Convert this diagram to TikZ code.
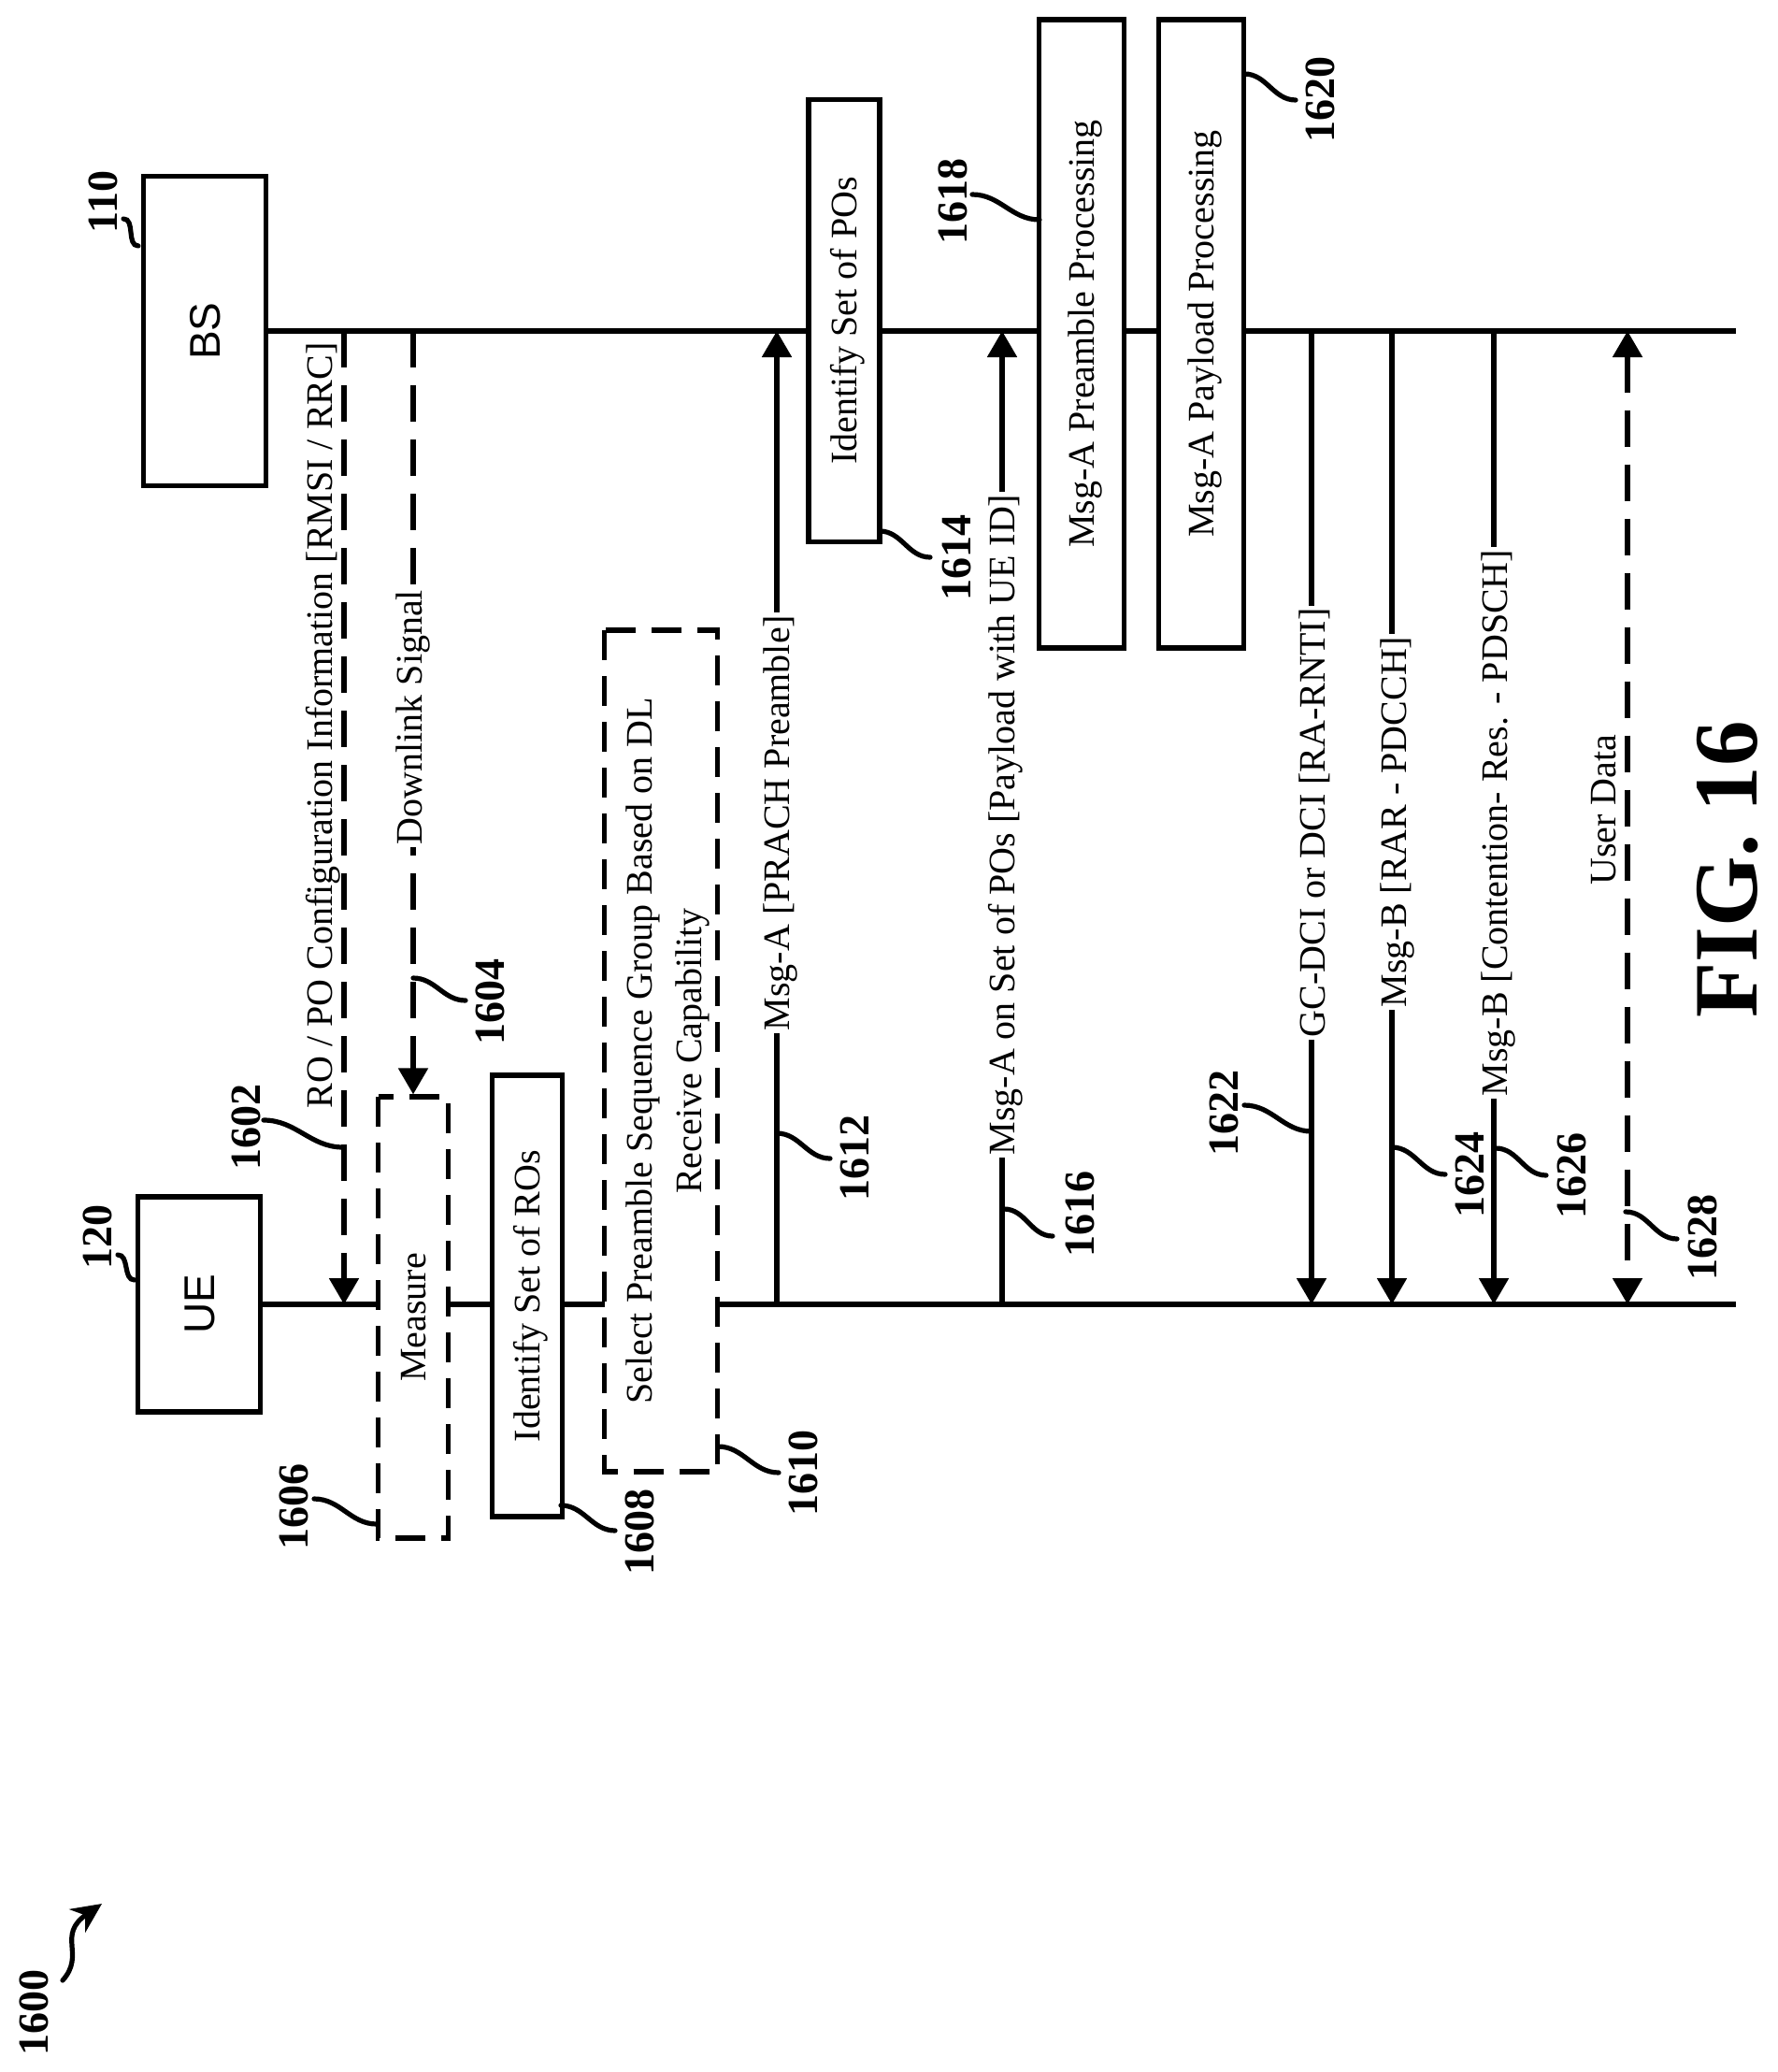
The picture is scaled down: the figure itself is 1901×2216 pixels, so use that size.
\documentclass[tikz,border=0pt]{standalone}
\usepackage{fontspec}
\setmainfont{Liberation Serif}
\setsansfont{Liberation Sans}
\usetikzlibrary{arrows.meta}
\tikzset{
    msgbox/.style = {draw, fill=white, rotate=90, line width=5.2pt, inner sep=0pt, align=center},
    onebox/.style = {msgbox, text height=35pt, text depth=8pt},
    dashbox/.style = {msgbox, dash pattern=on 32pt off 17pt},
    partybox/.style = {onebox, text height=33pt, text depth=0pt, font=\sffamily\fontsize{46}{46}\selectfont},
    msgtext/.style = {rotate=90, fill=white, inner xsep=3pt, inner ysep=2pt},
    sidetext/.style = {rotate=90, inner sep=0pt},
    refnum/.style = {rotate=90, inner sep=0pt, font=\bfseries\fontsize{46}{46}\selectfont},
    msgline/.style = {line width=5.2pt},
    msgarrow/.style = {msgline, -{Triangle[length=28pt,width=31pt]}},
    dasharrow/.style = {msgarrow, dash pattern=on 39pt off 19pt},
    leadline/.style = {line width=5.2pt, line cap=round, out=0, in=180}
}
\begin{document}
\begin{tikzpicture}[x=1pt,y=-1pt,every node/.style={font=\fontsize{40}{50}\selectfont}]
\useasboundingbox (0,0) rectangle (1901,2216);
\node[partybox, minimum width=331pt, minimum height=131pt] (bs) at (219,354) {BS};
\node[partybox, minimum width=230pt, minimum height=131pt] (ue) at (213,1395) {UE};
\coordinate (bsend) at (1857,354);
\coordinate (ueend) at (1857,1395);
\draw[msgline] (bs.south) -- (bsend);
\draw[msgline] (ue.south) -- (ueend);
\coordinate (bs1) at (368,354);
\coordinate (ue1) at (368,1395);
\coordinate (bs2) at (442,354);
\coordinate (ue3) at (831,1395);
\coordinate (bs3) at (831,354);
\coordinate (ue4) at (1072,1395);
\coordinate (bs4) at (1072,354);
\coordinate (bs5) at (1403,354);
\coordinate (ue5) at (1403,1395);
\coordinate (bs6) at (1489,354);
\coordinate (ue6) at (1489,1395);
\coordinate (bs7) at (1598,354);
\coordinate (ue7) at (1598,1395);
\coordinate (bs8) at (1741,354);
\coordinate (ue8) at (1741,1395);
\node[dashbox, text height=35pt, text depth=8pt, minimum width=472pt, minimum height=75pt] (measure) at (442,1409) {Measure};
\node[onebox, minimum width=472pt, minimum height=75pt] (idro) at (564,1386) {Identify Set of ROs};
\node[dashbox, minimum width=900pt, minimum height=121pt] (select) at (707,1124) {\rule{0pt}{42pt}Select Preamble Sequence Group Based on DL\\[3pt]Receive Capability};
\node[onebox, minimum width=473pt, minimum height=76pt] (idpo) at (903,343) {Identify Set of POs};
\node[onebox, minimum width=672pt, minimum height=91pt] (prepro) at (1157,357) {Msg-A Preamble Processing};
\node[onebox, minimum width=672pt, minimum height=91pt] (paypro) at (1285,357) {Msg-A Payload Processing};
\draw[dasharrow] (bs1) -- (ue1);
\draw[dasharrow] (bs2) -- (measure.east -| bs2);
\draw[msgarrow] (ue3) -- (bs3);
\draw[msgarrow] (ue4) -- (bs4);
\draw[msgarrow] (bs5) -- (ue5);
\draw[msgarrow] (bs6) -- (ue6);
\draw[msgarrow] (bs7) -- (ue7);
\draw[dasharrow, {Triangle[length=28pt,width=31pt]}-{Triangle[length=28pt,width=31pt]}] (bs8) -- (ue8);
\node[sidetext] (txtro) at (346,776) {RO / PO Configuration Information [RMSI / RRC]};
\node[msgtext] (txtdl) at (442,767) {Downlink Signal};
\node[msgtext] (txtprach) at (835,880) {Msg-A [PRACH Preamble]};
\node[msgtext] (txtpay) at (1076,882) {Msg-A on Set of POs [Payload with UE ID]};
\node[msgtext] (txtgc) at (1406,880) {GC-DCI or DCI [RA-RNTI]};
\node[msgtext] (txtrar) at (1495,879) {Msg-B [RAR - PDCCH]};
\node[msgtext] (txtcon) at (1603,880) {Msg-B [Contention- Res. - PDSCH]};
\node[sidetext] (txtuser) at (1716,866) {User Data};
\node[refnum] (n110) at (110,216) {110};
\node[refnum] (n120) at (104,1323) {120};
\node[refnum] (n1602) at (263,1205) {1602};
\node[refnum] (n1604) at (524,1071) {1604};
\node[refnum] (n1606) at (314,1611) {1606};
\node[refnum] (n1608) at (684,1638) {1608};
\node[refnum] (n1610) at (859,1575) {1610};
\node[refnum] (n1612) at (914,1238) {1612};
\node[refnum] (n1614) at (1023,596) {1614};
\node[refnum] (n1616) at (1155,1298) {1616};
\node[refnum] (n1618) at (1019,215) {1618};
\node[refnum] (n1620) at (1412,106) {1620};
\node[refnum] (n1622) at (1309,1190) {1622};
\node[refnum] (n1624) at (1572,1256) {1624};
\node[refnum] (n1626) at (1681,1257) {1626};
\node[refnum] (n1628) at (1821,1323) {1628};
\node[refnum] (n1600) at (36,2152) {1600};
\node[refnum, font=\bfseries\fontsize{97}{97}\selectfont] (fig) at (1848,930) {FIG. 16};
\draw[leadline] (132,234) coordinate (a110) to (148,263) coordinate (b110);
\draw[leadline] (126,1342) coordinate (a120) to (144,1369) coordinate (b120);
\draw[leadline] (282,1198) coordinate (a1602) to (367,1227) coordinate (b1602);
\draw[leadline] (442,1046) coordinate (a1604) to (498,1070) coordinate (b1604);
\draw[leadline] (336,1603) coordinate (a1606) to (403,1630) coordinate (b1606);
\draw[leadline] (600,1610) coordinate (a1608) to (658,1637) coordinate (b1608);
\draw[leadline] (768,1547) coordinate (a1610) to (833,1575) coordinate (b1610);
\draw[leadline] (831,1212) coordinate (a1612) to (888,1239) coordinate (b1612);
\draw[leadline] (941,568) coordinate (a1614) to (995,596) coordinate (b1614);
\draw[leadline] (1074,1293) coordinate (a1616) to (1126,1322) coordinate (b1616);
\draw[leadline] (1040,208) coordinate (a1618) to (1112,235) coordinate (b1618);
\draw[leadline] (1331,79) coordinate (a1620) to (1386,107) coordinate (b1620);
\draw[leadline] (1331,1182) coordinate (a1622) to (1403,1210) coordinate (b1622);
\draw[leadline] (1489,1227) coordinate (a1624) to (1546,1256) coordinate (b1624);
\draw[leadline] (1600,1228) coordinate (a1626) to (1654,1257) coordinate (b1626);
\draw[leadline] (1739,1296) coordinate (a1628) to (1794,1325) coordinate (b1628);
\coordinate (a1600) at (67,2118);
\coordinate (b1600) at (109,2036);
\draw[msgline, line cap=round, -{Stealth[length=32pt,width=30pt]}] (a1600) .. controls (92,2090) and (60,2070) .. (b1600);
\end{tikzpicture}
\end{document}
